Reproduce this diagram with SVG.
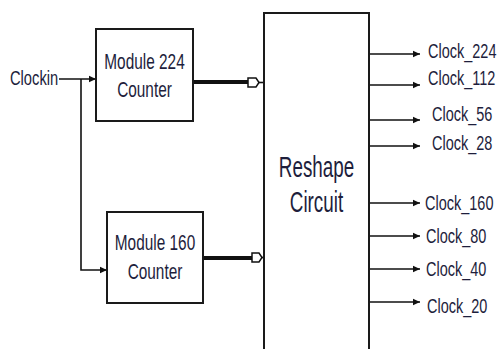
<svg xmlns="http://www.w3.org/2000/svg" width="500" height="349" viewBox="0 0 500 349">
<defs>
<style>
.box{fill:#fff;stroke:#1a1a1a;stroke-width:2}
.ln{fill:none;stroke:#111;stroke-width:1.6}
.bus{fill:none;stroke:#111;stroke-width:4}
.t{font-family:"Liberation Sans",Arial,sans-serif;fill:#1e1e3c}
.c{font-size:21px}
.m{font-size:22px;text-anchor:middle}
.r{font-size:29px;text-anchor:middle}
</style>
<marker id="ah" markerWidth="8" markerHeight="8" refX="7" refY="4" orient="auto" markerUnits="userSpaceOnUse">
<path d="M0,0.8 L7,4 L0,7.2 Z" fill="#111"/>
</marker>
</defs>
<rect width="500" height="349" fill="#fff"/>

<g id="connectors">
<path class="ln" d="M59,79 H96" marker-end="url(#ah)"/>
<path class="ln" d="M81,79 V270 H107" marker-end="url(#ah)"/>
<path class="bus" d="M193,82 H249"/>
<path class="bus" d="M203,258 H252"/>
<path d="M248,78 H256 L259,82.5 L256,87 H248 Z" fill="#fff" stroke="#111" stroke-width="1.5"/>
<path class="ln" d="M258,82.5 H264"/>
<path d="M252,253 H259 L262,257.5 L259,262 H252 Z" fill="#fff" stroke="#111" stroke-width="1.5"/>
<path class="ln" d="M261,257.5 H266"/>
<path class="ln" d="M369,54 H420" marker-end="url(#ah)"/>
<path class="ln" d="M369,85 H420" marker-end="url(#ah)"/>
<path class="ln" d="M369,120 H420" marker-end="url(#ah)"/>
<path class="ln" d="M369,146 H420" marker-end="url(#ah)"/>
<path class="ln" d="M369,203 H420" marker-end="url(#ah)"/>
<path class="ln" d="M369,236 H420" marker-end="url(#ah)"/>
<path class="ln" d="M369,269 H420" marker-end="url(#ah)"/>
<path class="ln" d="M369,302 H420" marker-end="url(#ah)"/>
</g>

<g id="clockin">
<text class="t c" transform="translate(10 85) scale(0.7 1)">Clockin</text>
</g>

<g id="mod224">
<rect class="box" x="96" y="29" width="97" height="92"/>
<text class="t m" transform="translate(144.5 69) scale(0.7 1)">Module 224</text>
<text class="t m" transform="translate(144.5 97) scale(0.7 1)">Counter</text>
</g>

<g id="mod160">
<rect class="box" x="107" y="212" width="96" height="91"/>
<text class="t m" transform="translate(155 250) scale(0.7 1)">Module 160</text>
<text class="t m" transform="translate(155 279) scale(0.7 1)">Counter</text>
</g>

<g id="reshape">
<rect class="box" x="264" y="13" width="105" height="350"/>
<text class="t r" transform="translate(316.5 177) scale(0.65 1)">Reshape</text>
<text class="t r" transform="translate(316.5 212) scale(0.65 1)">Circuit</text>
</g>

<g id="outputs">
<text class="t c" transform="translate(428 58) scale(0.69 1)">Clock_224</text>
<text class="t c" transform="translate(428 85) scale(0.69 1)">Clock_112</text>
<text class="t c" transform="translate(432 121) scale(0.69 1)">Clock_56</text>
<text class="t c" transform="translate(432 150) scale(0.69 1)">Clock_28</text>
<text class="t c" transform="translate(425 210) scale(0.69 1)">Clock_160</text>
<text class="t c" transform="translate(426 243) scale(0.69 1)">Clock_80</text>
<text class="t c" transform="translate(426 276) scale(0.69 1)">Clock_40</text>
<text class="t c" transform="translate(427 313) scale(0.69 1)">Clock_20</text>
</g>
</svg>
